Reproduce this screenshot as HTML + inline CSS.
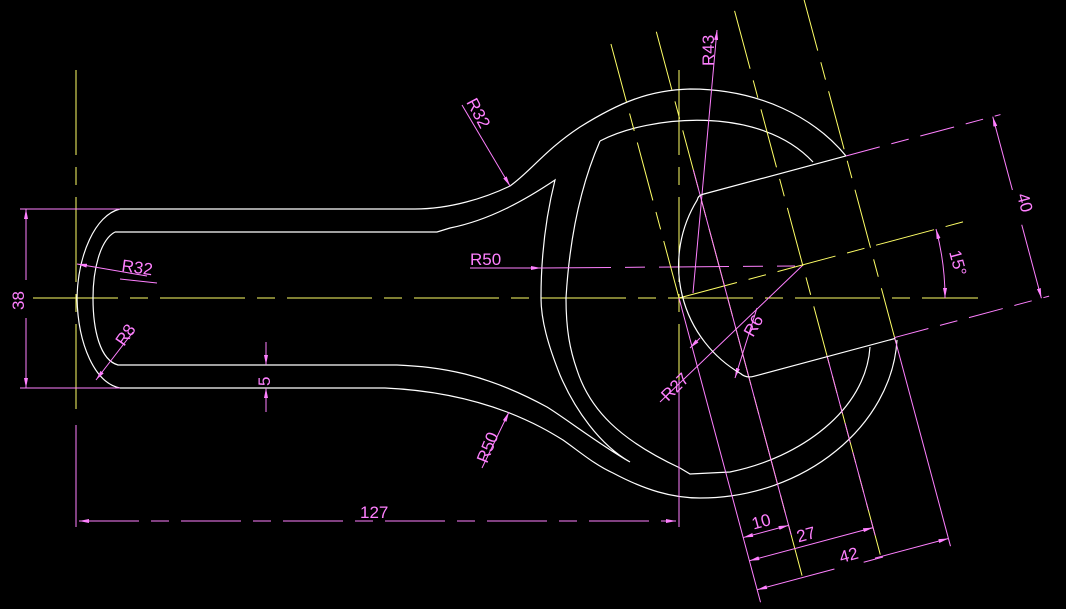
<!DOCTYPE html>
<html><head><meta charset="utf-8"><style>
html,body{margin:0;padding:0;background:#000;width:1066px;height:609px;overflow:hidden}
svg{display:block}
text{font-family:"Liberation Sans",sans-serif;font-size:17px;fill:#ff80ff}
</style></head><body>
<svg width="1066" height="609" viewBox="0 0 1066 609" xmlns="http://www.w3.org/2000/svg">
<defs>
<marker id="a" viewBox="0 0 10 4" refX="10" refY="2" markerWidth="10" markerHeight="4" markerUnits="userSpaceOnUse" orient="auto"><path d="M0,0L10,2L0,4z" fill="#ff80ff"/></marker>
<marker id="b" viewBox="0 0 10 4" refX="0" refY="2" markerWidth="10" markerHeight="4" markerUnits="userSpaceOnUse" orient="auto"><path d="M10,0L0,2L10,4z" fill="#ff80ff"/></marker>
</defs>
<rect width="1066" height="609" fill="#000"/>

<g stroke="#ffff66" stroke-width="1" fill="none">
<line x1="33" y1="298" x2="978" y2="298" stroke-dasharray="85 12 18 12"/>
<line x1="76" y1="70" x2="76" y2="410" stroke-dasharray="85 12 18 12"/>
<line x1="679" y1="70" x2="679" y2="500" stroke-dasharray="85 12 18 12"/>
</g>

<g stroke="#ffffff" stroke-width="1.2" fill="none">
<path d="M120,209 L415,209 C450,209 485,198 510,186 C530,172 545,150 580,127 C620,102 650,90 690,89 C760,89 815,118 846,156"/>
<path d="M120,209 C95,215 78,255 77,298 C78,345 95,383 120,388 L385,388 C430,390 470,398 507,412 C535,423 550,432 563,440 C580,452 595,465 613,473 C645,490 672,498 700,498 C805,498 892,425 897,340"/>
<path d="M115,232 C100,240 93,270 93,298 C93,330 100,360 118,365 L397,365 C420,366 440,368 465,374 C497,382 525,395 547,407 C565,418 600,445 630,462 C600,445 575,410 560,375 C548,345 541,320 541,298 C541,260 545,220 555,180 C525,200 490,220 450,228 L437,232 L115,232"/>
<path d="M600,141 C650,115 760,105 813,162"/>
<path d="M600,141 C583,180 570,230 566,298 C566,330 570,350 577,370 C590,410 620,440 680,468 L690,474 L730,472 C800,458 866,410 870,347"/>
</g>

<g stroke="#ff80ff" stroke-width="1" fill="none">
<line x1="76" y1="425" x2="76" y2="527"/>
<line x1="679" y1="380" x2="679" y2="527"/>
<line x1="20" y1="209" x2="120" y2="209"/>
<line x1="20" y1="388" x2="120" y2="388"/>
<line x1="26" y1="209" x2="26" y2="280" marker-start="url(#b)"/>
<line x1="26" y1="318" x2="26" y2="388" marker-end="url(#a)"/>
<line x1="79" y1="521" x2="676" y2="521" stroke-dasharray="60 12 18 12" marker-start="url(#b)" marker-end="url(#a)"/>
<line x1="266" y1="342" x2="266" y2="365" marker-end="url(#a)"/>
<line x1="266" y1="412" x2="266" y2="388" marker-end="url(#a)"/>
<line x1="147" y1="276" x2="77" y2="264" marker-end="url(#a)"/>
<line x1="120" y1="279" x2="157" y2="283"/>
<line x1="133" y1="332" x2="96" y2="380" marker-end="url(#a)"/>
<line x1="470" y1="268" x2="541" y2="268" marker-end="url(#a)"/>
<line x1="541" y1="268" x2="795" y2="266" stroke-dasharray="70 14 20 14"/>
<line x1="462" y1="105" x2="510" y2="186" marker-end="url(#a)"/>
<line x1="482" y1="468" x2="509" y2="412" marker-end="url(#a)"/>
<line x1="717" y1="30" x2="693" y2="293" marker-start="url(#b)"/>
<line x1="660" y1="402" x2="803" y2="265"/>
<line x1="700" y1="338" x2="690" y2="348" marker-end="url(#a)"/>
<line x1="757" y1="308" x2="735" y2="378" marker-end="url(#a)"/>
</g>

<g transform="translate(679,298) rotate(-15)">
<g stroke="#ffff66" stroke-width="1" fill="none" stroke-dasharray="60 12 18 12">
<line x1="0" y1="0" x2="305" y2="0"/>
<line x1="0" y1="-263" x2="0" y2="0"/>
<line x1="47" y1="-263" x2="47" y2="300"/>
<line x1="128" y1="-263" x2="128" y2="300"/>
<line x1="198" y1="-263" x2="198" y2="100"/>
</g>
<g stroke="#ff80ff" stroke-width="1" fill="none">
<line x1="0" y1="0" x2="0" y2="315"/>
<line x1="47" y1="-120" x2="47" y2="258"/>
<line x1="128" y1="94" x2="128" y2="280" stroke-dasharray="60 10 20 10"/>
<line x1="198" y1="94" x2="198" y2="310"/>
<line x1="198" y1="-94" x2="358" y2="-94" stroke-dasharray="35 12 18 12"/>
<line x1="198" y1="94" x2="358" y2="94" stroke-dasharray="35 12 18 12"/>
<line x1="350" y1="-94" x2="350" y2="-18" marker-start="url(#b)"/>
<line x1="350" y1="18" x2="350" y2="94" marker-end="url(#a)"/>
<line x1="0" y1="248" x2="47" y2="248" marker-start="url(#b)" marker-end="url(#a)"/>
<line x1="0" y1="272" x2="128" y2="272" marker-start="url(#b)" marker-end="url(#a)"/>
<line x1="0" y1="302" x2="80" y2="302" marker-start="url(#b)"/>
<line x1="122" y1="302" x2="198" y2="302" marker-end="url(#a)"/>
<line x1="110" y1="303" x2="130" y2="303"/>
</g>
<path d="M198,-94 L50,-94 Q45,-94 43,-90 A125 125 0 0 0 40,89 Q44,95 52,95 L198,95" stroke="#ffffff" stroke-width="1.2" fill="none"/>
<text x="12" y="243">10</text>
<text x="52" y="267">27</text>
<text x="88" y="298">42</text>
<text transform="translate(353,-12) rotate(90)">40</text>
</g>

<path d="M945,298 A266 266 0 0 0 936,229" stroke="#ff80ff" stroke-width="1" fill="none" marker-start="url(#b)" marker-end="url(#a)"/>

<text transform="translate(24,310) rotate(-90)">38</text>
<text transform="translate(121,271) rotate(8)">R32</text>
<text transform="translate(124,347) rotate(-55)">R8</text>
<text transform="translate(270,386) rotate(-90)">5</text>
<text x="360" y="518">127</text>
<text x="470" y="265">R50</text>
<text transform="translate(466,102) rotate(62)">R32</text>
<text transform="translate(487,464) rotate(-68)">R50</text>
<text transform="translate(714,66) rotate(-90)">R43</text>
<text transform="translate(668,402) rotate(-45)">R27</text>
<text transform="translate(753,338) rotate(-60)">R6</text>
<text transform="translate(949,252) rotate(75)">15°</text>
</svg>
</body></html>
